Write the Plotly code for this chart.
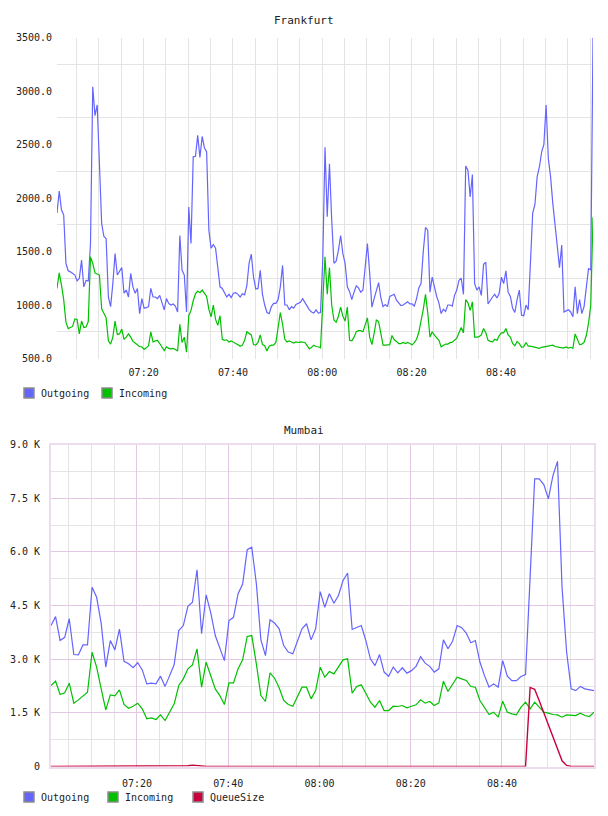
import pandas as pd
import plotly.graph_objects as go

# ===== DATA =====
series_names = ['Outgoing', 'Incoming', 'QueueSize']
series_colors = ['#6464ff', '#00c000', '#c8003c']

# Frankfurt, one sample every 30 s from 07:00:36
fra_out = [
    1860, 2065, 1890, 1840, 1390, 1320, 1310, 1295, 1280, 1225,
    1250, 1420, 1170, 1230, 1225, 1575, 3040, 2770, 2870, 2320,
    1760, 1640, 1620, 1075, 985, 1200, 1480, 1280, 1310, 1350,
    1110, 1140, 1075, 1295, 1170, 1110, 1155, 920, 1060, 970,
    975, 985, 1155, 1075, 1075, 1060, 1090, 1030, 955, 1060,
    1015, 1000, 1010, 990, 935, 1650, 1325, 1280, 935, 1915,
    1575, 2385, 2390, 2585, 2380, 2575, 2470, 2430, 1700, 1530,
    1565, 1530, 1325, 1170, 1155, 1110, 1075, 1100, 1070, 1110,
    1115, 1100, 1075, 1105, 1095, 1180, 1390, 1475, 1260, 1150,
    1155, 1325, 1100, 1000, 930, 920, 985, 1015, 1015, 1050,
    1170, 1370, 1000, 1000, 955, 985, 970, 1005, 1015, 1025,
    1060, 1020, 990, 955, 935, 925, 955, 925, 930, 1420,
    2475, 1825, 2320, 1800, 1390, 1410, 1510, 1650, 1480, 1390,
    1170, 1125, 1050, 1120, 1180, 1160, 1120, 1140, 1330, 1575,
    1300, 980, 1060, 1150, 1210, 1070, 985, 1005, 985, 1080,
    1090, 1100, 1045, 1020, 995, 1000, 1015, 1030, 1010, 1010,
    990, 1060, 1160, 1200, 1500, 1725, 1700, 1120, 1260, 1160,
    1080, 1020, 920, 960, 940, 1000, 1000, 990, 1090, 1140,
    1230, 1250, 1100, 2300, 2260, 2010, 2220, 1200, 1140, 1170,
    1090, 1380, 1400, 1010, 1050, 1075, 1100, 1065, 1110, 1260,
    1200, 1320, 1120, 1080, 970, 930, 1050, 1140, 905, 900,
    1000, 955, 1400, 1860, 1940, 2200, 2290, 2430, 2500, 2870,
    2370, 2200, 1950, 1745, 1580, 1350, 1560, 935, 945, 955,
    935, 890, 1170, 920, 1050, 920, 985, 1150, 1340, 1330,
    3500,
]
fra_in = [
    1155, 1300, 1185, 1050, 840, 780, 790, 800, 870, 865,
    730, 850, 790, 795, 845, 1450, 1390, 1300, 1290, 1280,
    965, 915, 880, 665, 635, 700, 850, 725, 730, 775,
    680, 700, 730, 700, 660, 645, 625, 610, 610, 585,
    600, 620, 750, 655, 665, 670, 640, 610, 575, 610,
    595, 590, 595, 585, 570, 820, 650, 700, 560, 900,
    950, 1040, 1105, 1130, 1115, 1140, 1115, 1080, 960, 890,
    1000, 865, 810, 900, 680, 670, 675, 655, 665, 650,
    640, 630, 615, 625, 670, 750, 735, 720, 630, 625,
    650, 720, 630, 620, 570, 615, 625, 625, 650, 770,
    930, 820, 680, 655, 665, 655, 645, 655, 650, 655,
    650, 650, 620, 590, 605, 625, 612, 610, 600, 1000,
    1450, 1100, 1350, 1000, 860, 840, 895, 980, 895, 850,
    980, 670, 665, 700, 750, 760, 760, 750, 820, 880,
    700, 630, 735, 860, 845, 740, 625, 625, 630, 630,
    715, 675, 660, 640, 640, 650, 640, 650, 640, 628,
    648, 680, 745, 845, 960, 1100, 930, 700, 750, 718,
    690, 670, 610, 625, 635, 635, 648, 652, 670, 690,
    740, 790, 740, 1050, 1020, 950, 1030, 700, 700, 705,
    720, 780, 740, 670, 660, 655, 680, 670, 715, 740,
    740, 780, 720, 700, 640, 620, 660, 640, 605, 610,
    650, 615, 615, 610, 600, 600, 595, 605, 610, 612,
    620, 625, 625, 612, 612, 605, 600, 600, 608, 598,
    605, 595, 730, 670, 630, 635, 650, 715, 830, 1000,
    1820,
]

# Mumbai, one sample per minute from 07:01:10
mum_out = [
    3940, 4190, 3520, 3610, 4130, 3130, 3120, 3400, 3400, 5010,
    4730, 4000, 2780, 3520, 3260, 3840, 2940, 2870, 2760, 2900,
    2700, 2310, 2330, 2310, 2525, 2240, 2540, 2850, 3800, 3940,
    4480, 4590, 5500, 3710, 4800, 4300, 3660, 3335, 2960, 4080,
    4170, 4830, 5100, 6060, 6130, 5115, 3540, 3100, 4100, 4010,
    3850, 3380, 3200, 3150, 3520, 3850, 3990, 3540, 3850, 4890,
    4450, 4830, 4565, 4780, 5200, 5410, 3830, 3890, 3940, 3520,
    3010, 2820, 3130, 2640, 2525, 2780, 2620, 2760, 2610, 2680,
    2800, 3070, 2890, 2800, 2640, 2730, 3540, 3290, 3500, 3940,
    3880, 3730, 3460, 3520, 2920, 2540, 2220, 2310, 2220, 2960,
    2525, 2400, 2400, 2515, 2570, 5300, 8040, 8040, 7880, 7480,
    8130, 8530, 5000, 3200, 2170, 2120, 2240, 2170, 2150, 2120,
]
mum_in = [
    2264, 2385, 2012, 2059, 2329, 1770, 1863, 1984, 2077, 3195,
    2776, 2170, 1584, 2003, 1975, 2143, 1733, 1630, 1686, 1770,
    1612, 1333, 1361, 1314, 1444, 1286, 1519, 1752, 2264, 2450,
    2730, 2842, 3289, 2217, 2916, 2543, 2170, 1984, 1733, 2338,
    2338, 2730, 2982, 3634, 3661, 2870, 1984, 1817, 2617, 2468,
    2199, 1845, 1733, 1686, 1956, 2217, 2217, 1891, 2124, 2776,
    2496, 2655, 2590, 2776, 2982, 3010, 2049, 2236, 2283, 2049,
    1798, 1658, 1845, 1565, 1565, 1686, 1677, 1705, 1640, 1686,
    1724, 1863, 1770, 1817, 1705, 1779, 2385, 2096, 2283, 2496,
    2450, 2404, 2236, 2217, 1845, 1640, 1453, 1519, 1379, 1826,
    1519, 1472, 1444, 1658, 1798, 1612, 1798, 1658, 1519, 1491,
    1453, 1444, 1379, 1444, 1444, 1425, 1491, 1425, 1398, 1519,
]
mum_queue = [0] * 30 + [20, 40, 35, 15] + [0] * 71 + [
    2210, 2160, 1840, 1490, 1160, 840, 500, 160, 30, 0,
    0, 0, 0, 0, 0,
]

fra_times = pd.date_range('2014-03-10 07:00:36', periods=len(fra_out), freq='30s')
mum_times = pd.date_range('2014-03-10 07:01:10', periods=len(mum_out), freq='min')

fra_yticks = [500, 1000, 1500, 2000, 2500, 3000, 3500]
fra_xticks = ['07:20', '07:40', '08:00', '08:20', '08:40', '09:00']
mum_yticks = [0, 1500, 3000, 4500, 6000, 7500, 9000]
mum_ylabels = ['0', '1.5 K', '3.0 K', '4.5 K', '6.0 K', '7.5 K', '9.0 K']
mum_xticks = ['07:20', '07:40', '08:00', '08:20', '08:40']

# ===== LAYOUT HELPERS =====
# the page body keeps an 8px margin, so the figure is 16px smaller than the window
OFF = 8
W, H = 608 - 2 * OFF, 816 - 2 * OFF
FONT = 'DejaVu Sans Mono'


def px_x(v):
    return (v - OFF) / W


def px_y(v):
    # small vertical fix measured on the rendered page
    v = (v - 5.6) / 0.985
    return 1 - (v - OFF) / H


def day(hm):
    return '2014-03-10 ' + hm


fig = go.Figure()

fig.add_trace(go.Scatter(x=fra_times, y=fra_out, name=series_names[0], mode='lines',
                         line=dict(color=series_colors[0], width=1.2), xaxis='x', yaxis='y'))
fig.add_trace(go.Scatter(x=fra_times, y=fra_in, name=series_names[1], mode='lines',
                         line=dict(color=series_colors[1], width=1.2), xaxis='x', yaxis='y'))

fig.add_trace(go.Scatter(x=mum_times, y=mum_out, name=series_names[0], mode='lines',
                         line=dict(color=series_colors[0], width=1.2), xaxis='x2', yaxis='y2'))
fig.add_trace(go.Scatter(x=mum_times, y=mum_in, name=series_names[1], mode='lines',
                         line=dict(color=series_colors[1], width=1.2), xaxis='x2', yaxis='y2'))
fig.add_trace(go.Scatter(x=mum_times, y=mum_queue, name=series_names[2], mode='lines',
                         line=dict(color=series_colors[2], width=1.4), xaxis='x2', yaxis='y2'))

tick_font = dict(family=FONT, size=10, color='#222')
grey = '#e4e4e4'
lilac = '#e2c8e2'

fig.update_layout(
    width=W, height=H,
    margin=dict(l=0, r=0, t=0, b=0),
    paper_bgcolor='white', plot_bgcolor='white',
    showlegend=False,
    font=dict(family=FONT, size=10, color='#222'),
    xaxis=dict(
        domain=[px_x(57), px_x(593)], anchor='y',
        range=[fra_times[0], fra_times[-1]],
        tickmode='array', tickvals=[day(t) for t in fra_xticks], tickformat='%H:%M',
        showgrid=True, gridcolor=grey, gridwidth=1, zeroline=False, showline=False,
        ticks='', tickfont=tick_font, ticklabelstandoff=6,
        minor=dict(tick0=day('07:00'), dtick=300000, showgrid=True, gridcolor=grey, gridwidth=1),
    ),
    yaxis=dict(
        domain=[px_y(358), px_y(37)], anchor='x',
        range=[500, 3500],
        tickmode='array', tickvals=fra_yticks, tickformat='.1f',
        showgrid=False, zeroline=False, showline=False,
        ticks='', tickfont=tick_font, ticklabelstandoff=4,
        minor=dict(tickmode='linear', tick0=750, dtick=500, showgrid=True, gridcolor=grey, gridwidth=1),
    ),
    xaxis2=dict(
        domain=[px_x(51), px_x(594)], anchor='y2',
        range=[mum_times[0], mum_times[-1]],
        tickmode='array', tickvals=[day(t) for t in mum_xticks], tickformat='%H:%M',
        showgrid=True, gridcolor=lilac, gridwidth=1, zeroline=False,
        showline=True, mirror=True, linecolor='#ecdcee', linewidth=2, layer='below traces',
        ticks='', tickfont=tick_font, ticklabelstandoff=6,
        minor=dict(tick0=day('07:00'), dtick=300000, showgrid=True, gridcolor=grey, gridwidth=1),
    ),
    yaxis2=dict(
        domain=[px_y(766), px_y(444)], anchor='x2',
        range=[0, 9000],
        tickmode='array', tickvals=mum_yticks, ticktext=mum_ylabels,
        showgrid=True, gridcolor=lilac, gridwidth=1, zeroline=False,
        showline=True, mirror=True, linecolor='#ecdcee', linewidth=2, layer='below traces',
        ticks='', tickfont=tick_font, ticklabelstandoff=7,
        minor=dict(tickmode='linear', tick0=750, dtick=1500, showgrid=True, gridcolor=grey, gridwidth=1),
    ),
)

# titles
for title, ypos in [('Frankfurt', 20), ('Mumbai', 430)]:
    fig.add_annotation(text=title, x=px_x(304), y=px_y(ypos), xref='paper', yref='paper',
                       showarrow=False, xanchor='center', yanchor='middle',
                       font=dict(family=FONT, size=11, color='#222'))

# legends: colour square + label
legends = [
    (392.5, [24, 102], 2),
    (796.5, [24, 108, 193], 3),
]
for ymid, xs, n in legends:
    for k in range(n):
        x0 = xs[k]
        fig.add_shape(type='rect', xref='paper', yref='paper',
                      x0=px_x(x0), x1=px_x(x0 + 10), y0=px_y(ymid + 5), y1=px_y(ymid - 5),
                      fillcolor=series_colors[k], line=dict(color='#8c8c8c', width=1.5))
        fig.add_annotation(text=series_names[k], x=px_x(x0 + 15), y=px_y(ymid), xref='paper', yref='paper',
                           showarrow=False, xanchor='left', yanchor='middle',
                           font=dict(family=FONT, size=10, color='#222'))

fig.write_html('out.html')
